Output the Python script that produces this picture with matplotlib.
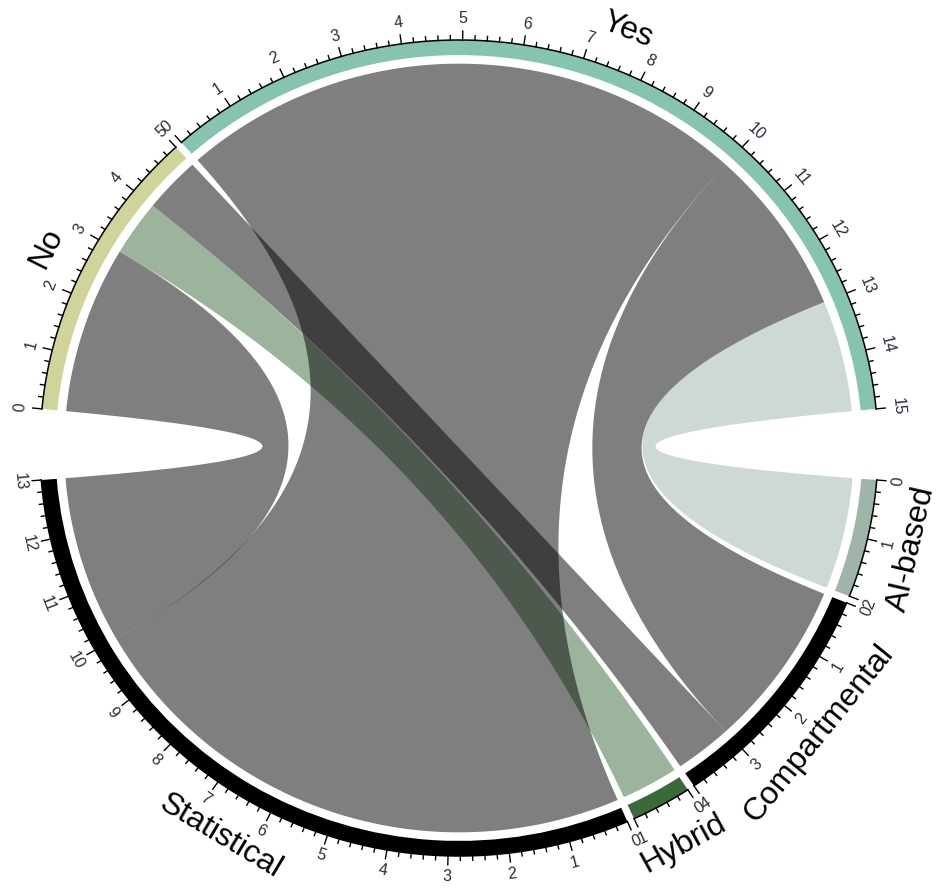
import numpy as np
import matplotlib
matplotlib.use("Agg")
import matplotlib.pyplot as plt
from matplotlib.patches import Polygon, Wedge

plt.rcParams["font.family"] = ["Liberation Sans", "DejaVu Sans"]

# Flow matrix: rows (No / Yes) -> columns (model families)
row_sectors = ["No", "Yes"]
col_sectors = ["Statistical", "Hybrid", "Compartmental", "AI-based"]
no_links = [3, 1, 1, 0]
yes_links = [10, 0, 3, 2]
matrix = [no_links, yes_links]

sector_colors = {
    "No": "#d0d49a",
    "Yes": "#86c4ae",
    "Statistical": "#000000",
    "Hybrid": "#3a6a3a",
    "Compartmental": "#000000",
    "AI-based": "#9fb5a8",
}

# sectors laid out clockwise, gap (degrees) after each one
order = ["AI-based", "Compartmental", "Hybrid", "Statistical", "No", "Yes"]
gaps = [1, 1, 1, 10, 1, 10]
start_deg = -4.5

# ---- sector sizes ---------------------------------------------------------
size = {}
for i, r in enumerate(row_sectors):
    size[r] = sum(matrix[i])
for j, c in enumerate(col_sectors):
    size[c] = sum(matrix[i][j] for i in range(len(row_sectors)))
total = sum(size.values())
deg_per_unit = (360.0 - sum(gaps)) / total

sec_start = {}
a = start_deg
for s, g in zip(order, gaps):
    sec_start[s] = a
    a -= size[s] * deg_per_unit + g


def ang(s, x):
    return sec_start[s] - x * deg_per_unit


# ---- figure ---------------------------------------------------------------
fig = plt.figure(figsize=(9.43, 8.9), dpi=100)
ax = fig.add_axes([0, 0, 1, 1])
cx, cy, rx, ry = 459, 448, 419, 408
ax.set_xlim(-cx / rx, (943 - cx) / rx)
ax.set_ylim(-(890 - cy) / ry, cy / ry)
ax.axis("off")

R_OUT = 1.0
R_IN = 0.963
R_LINK = 0.942


def arc(s, x0, x1, r, n=80):
    t = np.radians(np.linspace(ang(s, x0), ang(s, x1), n))
    return np.column_stack([r * np.cos(t), r * np.sin(t)])


def bezier(p0, p2, n=120):
    t = np.linspace(0, 1, n)[:, None]
    return (1 - t) ** 2 * p0 + t ** 2 * p2  # control point at the centre


# ---- link positions on each sector ----------------------------------------
row_pos = {}
for i, r in enumerate(row_sectors):
    off = 0
    for j, c in enumerate(col_sectors):
        v = matrix[i][j]
        if v > 0:
            row_pos[(r, c)] = (off, off + v)
            off += v
col_pos = {}
for j, c in enumerate(col_sectors):
    off = 0
    for i in reversed(range(len(row_sectors))):
        r = row_sectors[i]
        v = matrix[i][j]
        if v > 0:
            col_pos[(r, c)] = (off, off + v)
            off += v

# ---- links ----------------------------------------------------------------
for i, r in enumerate(row_sectors):
    for j, c in enumerate(col_sectors):
        if matrix[i][j] <= 0:
            continue
        a1, a2 = row_pos[(r, c)]
        b1, b2 = col_pos[(r, c)]
        arcA = arc(r, a1, a2, R_LINK)
        arcB = arc(c, b1, b2, R_LINK)
        pts = np.vstack([arcA, bezier(arcA[-1], arcB[0]), arcB,
                         bezier(arcB[-1], arcA[0])])
        col = matplotlib.colors.to_rgba(sector_colors[c], 0.5)
        ax.add_patch(Polygon(pts, closed=True, facecolor=col,
                             edgecolor="none", linewidth=0))

# ---- sector tracks, axes, ticks, labels -----------------------------------
def text_rot(theta):
    th = (theta + 180) % 360 - 180
    return th - 90 if th >= 0 else th + 90


for s in order:
    t0 = ang(s, 0)
    t1 = ang(s, size[s])
    ax.add_patch(Wedge((0, 0), R_OUT, t1, t0, width=R_OUT - R_IN,
                       facecolor=sector_colors[s], edgecolor="none"))
    base = arc(s, 0, size[s], R_OUT, n=120)
    ax.plot(base[:, 0], base[:, 1], color="black", lw=1.1)
    n_minor = int(size[s] * 5)
    for k in range(n_minor + 1):
        x = k / 5.0
        th = np.radians(ang(s, x))
        L = 0.022 if k % 5 == 0 else 0.011
        ax.plot([R_OUT * np.cos(th), (R_OUT + L) * np.cos(th)],
                [R_OUT * np.sin(th), (R_OUT + L) * np.sin(th)],
                color="black", lw=1.0)
    for k in range(size[s] + 1):
        thd = ang(s, k)
        th = np.radians(thd)
        ax.text(1.052 * np.cos(th), 1.052 * np.sin(th), str(k),
                rotation=text_rot(thd), rotation_mode="anchor",
                ha="center", va="center", fontsize=11.5, color="#2c2c3c")
    mid = ang(s, size[s] / 2.0)
    m = (mid + 180) % 360 - 180
    rr = 1.10 if m >= 0 else 1.108
    ax.text(rr * np.cos(np.radians(mid)), rr * np.sin(np.radians(mid)), s,
            rotation=text_rot(mid), rotation_mode="anchor",
            ha="center", va="center", fontsize=23, color="black")

fig.savefig("out.png", dpi=100)
